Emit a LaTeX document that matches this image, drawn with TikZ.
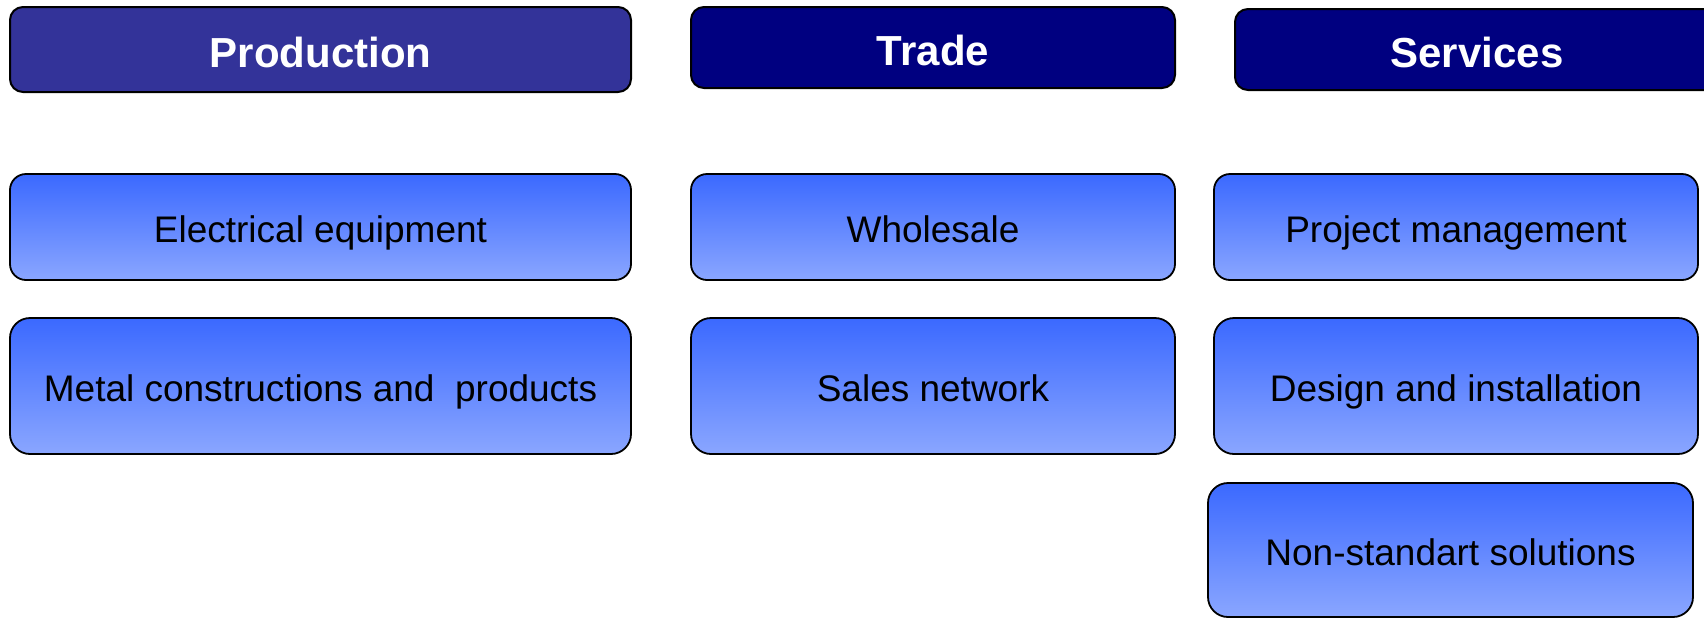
\documentclass[tikz,border=0pt]{standalone}
\usepackage{fontspec}
\setmainfont{Liberation Sans}
\definecolor{prodblue}{RGB}{51,51,153}
\definecolor{navyblue}{RGB}{0,0,128}
\definecolor{gradtop}{RGB}{59,105,255}
\definecolor{gradbot}{RGB}{138,166,255}
\tikzset{
  headbox/.style={draw=black, line width=1pt, text=white, font=\fontsize{21}{25}\selectfont\bfseries,
    inner sep=0pt, text height=17.6pt, text depth=0pt, rounded corners=6.5pt},
  itembox/.style={draw=black, line width=0.9pt, text=black, font=\fontsize{18.5}{22}\selectfont,
    inner sep=0pt, text height=15pt, text depth=0pt, top color=gradtop, bottom color=gradbot},
}
\begin{document}
\begin{tikzpicture}[x=0.5pt,y=-0.5pt]
\useasboundingbox (0,0) rectangle (1704,617);
\clip (0,0) rectangle (1704,617);
% headers
\node[headbox, fill=prodblue, minimum width=310.5pt, minimum height=42.5pt] (prod) at (320.5,49.5) {Production};
\node[headbox, fill=navyblue, minimum width=242pt, minimum height=40.5pt] (trade) at (933,47.5) {Trade};
\node[headbox, fill=navyblue, minimum width=242pt, minimum height=40.5pt] (serv) at (1477,49.5) {Services};
% row 1
\node[itembox, rounded corners=8pt, minimum width=310.5pt, minimum height=53pt] (elec) at (320.5,227) {Electrical equipment};
\node[itembox, rounded corners=8pt, minimum width=242pt, minimum height=53pt] (whole) at (933,227) {Wholesale};
\node[itembox, rounded corners=8pt, minimum width=242pt, minimum height=53pt] (proj) at (1456,227) {Project management};
% row 2
\node[itembox, rounded corners=10pt, minimum width=310.5pt, minimum height=68pt] (metal) at (320.5,386) {Metal constructions and\ \ products};
\node[itembox, rounded corners=10pt, minimum width=242pt, minimum height=68pt] (sales) at (933,386) {Sales network};
\node[itembox, rounded corners=10pt, minimum width=242pt, minimum height=68pt] (design) at (1456,386) {Design and installation};
% row 3
\node[itembox, rounded corners=10pt, minimum width=242.5pt, minimum height=67pt] (nonstd) at (1450.5,550) {Non-standart solutions};
\end{tikzpicture}
\end{document}
